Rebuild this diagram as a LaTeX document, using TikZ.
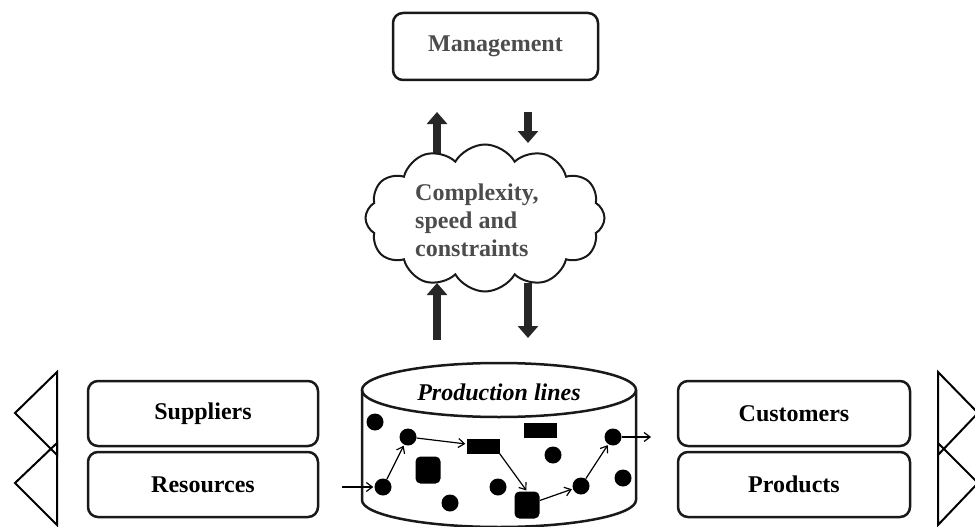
\documentclass[tikz,border=0pt]{standalone}
\usepackage{fontspec}
\setmainfont{Liberation Serif}
\usetikzlibrary{shapes.symbols,arrows.meta}
\begin{document}
\begin{tikzpicture}[x=1pt,y=-1pt,
  box/.style={draw=black!90, line width=2.5pt, rounded corners=10pt, font=\fontsize{24}{28}\selectfont\bfseries},
  big/.style={line width=8pt, draw=black!85, -{Triangle[length=12pt,width=20pt]}},
  dot/.style={circle, fill=black, inner sep=0pt, minimum size=17pt},
  blk/.style={rectangle, fill=black, inner sep=0pt, minimum width=33pt, minimum height=15pt},
  drum/.style={rectangle, rounded corners=5pt, fill=black, inner sep=0pt, minimum width=25pt, minimum height=27pt},
  flow/.style={line width=1.2pt, -{Straight Barb[length=6pt,width=9pt]}, shorten >=1pt},
  tri/.style={line width=2pt, line join=miter},
  greytext/.style={text=black!70, font=\fontsize{24}{28}\selectfont\bfseries}
]
\useasboundingbox (0,0) rectangle (975,527);

% top box
\node[box, minimum width=205pt, minimum height=67pt, text=black!70] (mgmt) at (495.5,46.5) {Management};

% arrows coordinates
\coordinate (ua1) at (437,160);
\coordinate (ua2) at (437,112);
\coordinate (da1) at (528,112);
\coordinate (da2) at (528,143);
\coordinate (ub1) at (437,340);
\coordinate (ub2) at (437,283);
\coordinate (db1) at (528,283);
\coordinate (db2) at (528,338);
\draw[big] (ua1) -- (ua2);
\draw[big] (da1) -- (da2);
\draw[big] (ub1) -- (ub2);
\draw[big] (db1) -- (db2);

% cloud
\node[cloud, cloud puffs=12, cloud puff arc=120, aspect=1.6, draw=black!90, fill=white, line width=2pt,
      minimum width=239pt, minimum height=147pt] (cloud) at (485,218) {};
\node[greytext, align=left, anchor=west, inner sep=0pt] (ctext) at (415,220) {Complexity,\\speed and\\constraints};

% cylinder
\draw[line width=2.5pt, draw=black!90] (362,390) -- (362,500) arc[start angle=180, end angle=0, x radius=137, y radius=27] -- (636,390);
\draw[line width=2.5pt, draw=black!90] (499,390) ellipse[x radius=137, y radius=27];
\node[font=\fontsize{24}{28}\selectfont\bfseries\itshape] (prod) at (499,392) {Production lines};

% items
\node[dot] (d1) at (375,422) {};
\node[dot] (d2) at (408,437) {};
\node[dot] (d3) at (383,487) {};
\node[blk] (r1) at (483,446) {};
\node[blk] (r2) at (540,430) {};
\node[dot] (d4) at (553,455) {};
\node[drum] (s1) at (428,470) {};
\node[dot] (d5) at (498,487) {};
\node[dot] (d6) at (450,503) {};
\node[drum] (s2) at (527,505) {};
\node[dot] (d7) at (581,486) {};
\node[dot] (d8) at (613,437) {};
\node[dot] (d9) at (623,478) {};
\coordinate (fin) at (342,487);
\coordinate (fout) at (652,437);

\draw[flow] (fin) -- (d3);
\draw[flow] (d3) -- (d2);
\draw[flow] (d2) -- (r1);
\draw[flow] (r1.south east) -- (s2.north);
\draw[flow] (s2) -- (d7);
\draw[flow] (d7) -- (d8);
\draw[flow] (d8) -- (fout);

% side boxes
\node[box, minimum width=230pt, minimum height=65pt] (sup) at (203,413.5) {Suppliers};
\node[box, minimum width=230pt, minimum height=65pt] (res) at (203,484.5) {Resources};
\node[box, minimum width=232pt, minimum height=65pt] (cus) at (794,413.5) {Customers};
\node[box, minimum width=232pt, minimum height=65pt] (pro) at (794,484.5) {Products};

% triangles
\draw[tri] (57,372) -- (15,413) -- (57,455) -- cycle;
\draw[tri] (57,443) -- (15,483) -- (57,525) -- cycle;
\draw[tri] (938,372) -- (978,413) -- (938,455) -- cycle;
\draw[tri] (938,443) -- (978,483) -- (938,525) -- cycle;
\end{tikzpicture}
\end{document}
